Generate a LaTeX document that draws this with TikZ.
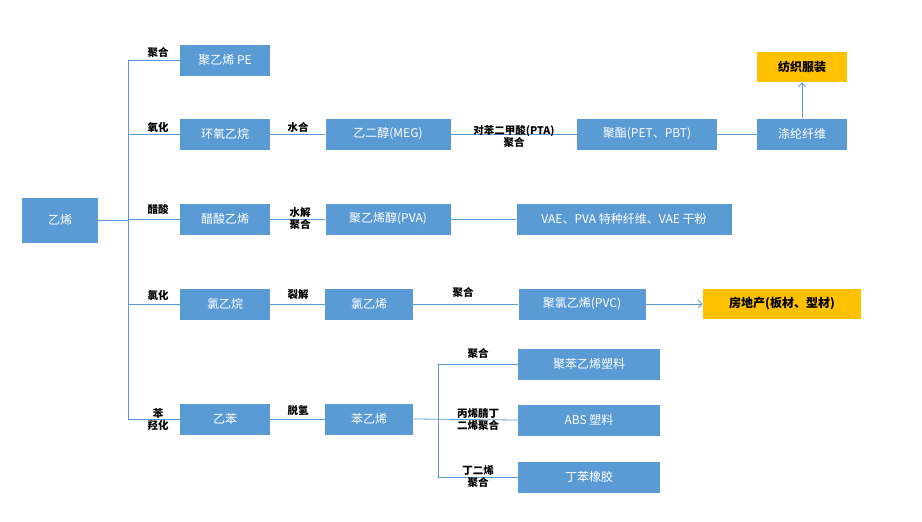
\documentclass[tikz,border=0pt]{standalone}
\usepackage{fontspec}
\setmainfont{Noto Sans CJK SC}
\usetikzlibrary{arrows.meta}
\definecolor{boxblue}{HTML}{5B9BD5}
\definecolor{boxorange}{HTML}{FFC000}
\tikzset{
every picture/.style={
line width=0.8pt
}}
\begin{document}
\begin{tikzpicture}[x=1pt, y=-1pt,
block/.style = {rectangle, fill=boxblue, text=white, font=\fontsize{12}{14}\selectfont, minimum height=31pt, inner sep=2pt},
goal/.style = {rectangle, fill=boxorange, text=black, font=\bfseries\fontsize{12}{14}\selectfont, minimum height=30pt, inner sep=2pt},
lab/.style = {font=\bfseries\fontsize{10.5}{12}\selectfont, align=center, inner sep=1pt},
line/.style = {draw=boxblue}]
\useasboundingbox (0,0) rectangle (922,522);
\node[block, minimum width=76pt, minimum height=45pt] at (60,220) (ey) {乙烯};
\node[block, minimum width=90pt] at (225,60) (pe) {聚乙烯 PE};
\node[block, minimum width=90pt] at (225,134) (eo) {环氧乙烷};
\node[block, minimum width=125pt] at (388,134) (meg) {乙二醇(MEG)};
\node[block, minimum width=140pt] at (647,134) (pet) {聚酯(PET、PBT)};
\node[block, minimum width=90pt] at (802,134) (dl) {涤纶纤维};
\node[goal, minimum width=90pt] at (802,67) (fz) {纺织服装};
\node[block, minimum width=90pt] at (225,219) (va) {醋酸乙烯};
\node[block, minimum width=125pt] at (388,219) (pva) {聚乙烯醇(PVA)};
\node[block, minimum width=215pt] at (624,219) (vae) {VAE、PVA 特种纤维、VAE 干粉};
\node[block, minimum width=90pt] at (225,304) (cea) {氯乙烷};
\node[block, minimum width=88pt] at (369,304) (vc) {氯乙烯};
\node[block, minimum width=127pt] at (582,304) (pvc) {聚氯乙烯(PVC)};
\node[goal, minimum width=158pt] at (782,304) (fdc) {房地产(板材、型材)};
\node[block, minimum width=90pt] at (225,419) (eb) {乙苯};
\node[block, minimum width=88pt] at (369,419) (st) {苯乙烯};
\node[block, minimum width=142pt] at (589,364) (ps) {聚苯乙烯塑料};
\node[block, minimum width=142pt] at (589,420) (abs) {ABS 塑料};
\node[block, minimum width=142pt] at (589,477) (sbr) {丁苯橡胶};
% trunk from ethylene
\coordinate (t0) at (128,220);
\draw[line] (ey) -- (t0);
\draw[line] (pe.west) -| (128,60) |- (eb.west);
\draw[line] (eo.west) -- (128,134);
\draw[line] (va.west) -- (128,219);
\draw[line] (cea.west) -- (128,304);
\draw[line] (eo) -- (meg);
\draw[line] (meg) -- (pet);
\draw[line] (pet) -- (dl);
\draw[line, -{Straight Barb[length=4pt,width=8pt]}] (dl) -- (fz);
\draw[line] (va) -- (pva);
\draw[line] (pva) -- (vae);
\draw[line] (cea) -- (vc);
\draw[line] (vc) -- (pvc);
\draw[line, -{Straight Barb[length=4pt,width=8pt]}] (pvc) -- (fdc);
\draw[line] (eb) -- (st);
\draw[line] (st.east) -- (abs.west);
\draw[line] (ps.west) -| (438,364) |- (sbr.west);
% labels
\node[lab] at (158,52) (l1) {聚合};
\node[lab] at (158,127) (l2) {氧化};
\node[lab] at (158,210) (l3) {醋酸};
\node[lab] at (158,295) (l4) {氯化};
\node[lab] at (158,420) (l5) {苯\\羟化};
\node[lab] at (298,127) (l6) {水合};
\node[lab] at (300,219) (l7) {水解\\聚合};
\node[lab] at (298,295) (l8) {裂解};
\node[lab] at (298,410) (l9) {脱氢};
\node[lab] at (514,136) (l10) {对苯二甲酸(PTA)\\聚合};
\node[lab] at (463,292) (l11) {聚合};
\node[lab] at (478,353) (l12) {聚合};
\node[lab] at (478,420) (l13) {丙烯腈丁\\二烯聚合};
\node[lab] at (478,477) (l14) {丁二烯\\聚合};
\end{tikzpicture}
\end{document}
